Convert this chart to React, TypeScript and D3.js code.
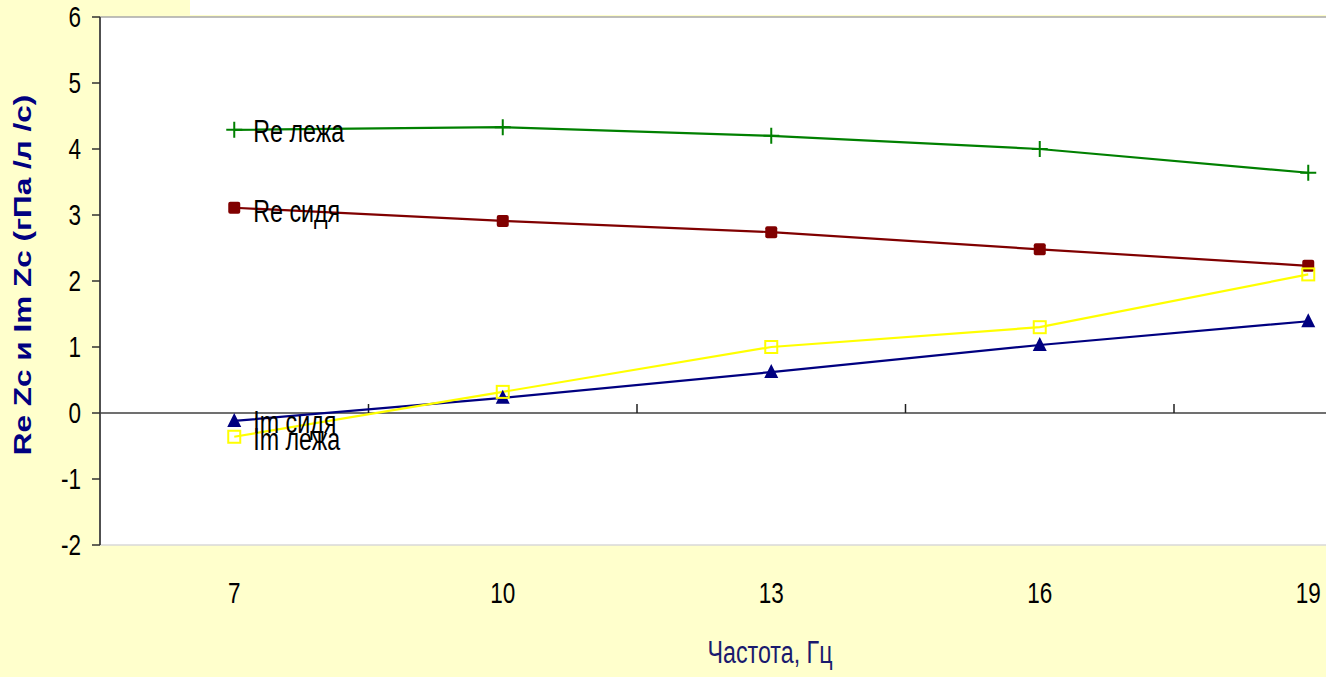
import { useRef, useEffect } from 'react';
import * as d3 from 'd3';

const categories = ['7', '10', '13', '16', '19'];
const yTicks = [6, 5, 4, 3, 2, 1, 0, -1, -2];

const reLying = [4.29, 4.33, 4.2, 4.0, 3.64];
const reSitting = [3.11, 2.91, 2.74, 2.48, 2.23];
const imSitting = [-0.12, 0.23, 0.62, 1.03, 1.39];
const imLying = [-0.36, 0.32, 1.0, 1.3, 2.1];

const seriesNames = ['Re лежа', 'Re сидя', 'Im сидя', 'Im лежа'];

const xTitle = 'Частота, Гц';
const yTitle = 'Re Zc и Im Zc (гПа /л /с)';

const App = () => {
  const ref = useRef(null);

  useEffect(() => {
    d3.select(ref.current).selectAll('*').remove();

    const width = 1326;
    const height = 677;
    const left = 100;
    const top = 17;
    const bottom = 545;
    const bandW = 268.5;
    const font = "'Liberation Sans', Arial, sans-serif";
    const sx = 0.75; // the picture is squeezed sideways

    const svg = d3.select(ref.current)
      .attr('width', width)
      .attr('height', height)
      .attr('font-family', font);

    // background
    svg.append('rect').attr('width', width).attr('height', height).attr('fill', '#ffffcc');
    svg.append('rect').attr('x', 190).attr('y', 0).attr('width', width - 190).attr('height', 15).attr('fill', '#ffffff');

    const x = d3.scaleBand()
      .domain(categories)
      .range([left, left + bandW * categories.length])
      .padding(0);
    const cx = (c) => x(c) + x.bandwidth() / 2;

    const y = d3.scaleLinear().domain([-2, 6]).range([bottom, top]);

    // plot area
    svg.append('rect')
      .attr('x', left).attr('y', top)
      .attr('width', width - left).attr('height', bottom - top)
      .attr('fill', '#ffffff');
    svg.append('line')
      .attr('x1', left).attr('x2', width).attr('y1', top).attr('y2', top)
      .attr('stroke', '#a8a8a8').attr('stroke-width', 1.5);
    svg.append('line')
      .attr('x1', left).attr('x2', width).attr('y1', bottom).attr('y2', bottom)
      .attr('stroke', '#d8d8d8').attr('stroke-width', 1.5);

    // y axis
    svg.append('line')
      .attr('x1', left).attr('x2', left).attr('y1', top).attr('y2', bottom)
      .attr('stroke', '#505050').attr('stroke-width', 2);
    svg.append('g')
      .selectAll('line')
      .data(yTicks)
      .join('line')
      .attr('x1', left - 8).attr('x2', left)
      .attr('y1', d => y(d)).attr('y2', d => y(d))
      .attr('stroke', '#303030').attr('stroke-width', 1.5);
    svg.append('g')
      .selectAll('text')
      .data(yTicks)
      .join('text')
      .attr('transform', d => `translate(${81},${y(d) + 10}) scale(${sx},1)`)
      .attr('text-anchor', 'end')
      .attr('font-size', 30)
      .attr('fill', '#000')
      .text(d => d);

    // x axis on zero
    const zero = y(0);
    svg.append('line')
      .attr('x1', left).attr('x2', width).attr('y1', zero).attr('y2', zero)
      .attr('stroke', '#404040').attr('stroke-width', 1.5);
    svg.append('g')
      .selectAll('line')
      .data(categories.slice(1))
      .join('line')
      .attr('x1', d => x(d)).attr('x2', d => x(d))
      .attr('y1', zero - 9).attr('y2', zero)
      .attr('stroke', '#202020').attr('stroke-width', 1.5);
    svg.append('g')
      .selectAll('text')
      .data(categories)
      .join('text')
      .attr('transform', d => `translate(${cx(d)},${603}) scale(${sx},1)`)
      .attr('text-anchor', 'middle')
      .attr('font-size', 30)
      .attr('fill', '#000')
      .text(d => d);

    // titles
    svg.append('text')
      .attr('transform', `translate(770,663) scale(${sx},1)`)
      .attr('text-anchor', 'middle')
      .attr('font-size', 31)
      .attr('fill', '#1a1a6e')
      .text(xTitle);
    svg.append('text')
      .attr('transform', `translate(31,275) scale(${sx},1) rotate(-90)`)
      .attr('text-anchor', 'middle')
      .attr('font-size', 31.5)
      .attr('font-weight', 'bold')
      .attr('fill', '#000080')
      .text(yTitle);

    const series = [
      { name: seriesNames[0], values: reLying, color: '#008000', marker: 'plus', dy: 12 },
      { name: seriesNames[1], values: reSitting, color: '#800000', marker: 'square', dy: 14 },
      { name: seriesNames[2], values: imSitting, color: '#000080', marker: 'triangle', dy: 12 },
      { name: seriesNames[3], values: imLying, color: '#ffff00', marker: 'open', dy: 13 },
    ];

    const line = d3.line()
      .x((d, i) => cx(categories[i]))
      .y(d => y(d));

    const g = svg.append('g');
    series.forEach(s => {
      g.append('path')
        .attr('d', line(s.values))
        .attr('fill', 'none')
        .attr('stroke', s.color)
        .attr('stroke-width', 2.2);
    });

    series.forEach(s => {
      const pts = g.append('g').selectAll('g')
        .data(s.values)
        .join('g')
        .attr('transform', (d, i) => `translate(${cx(categories[i])},${y(d)})`);
      if (s.marker === 'plus') {
        pts.append('path').attr('d', 'M-8,0H8M0,-8V8').attr('stroke', s.color).attr('stroke-width', 2);
      } else if (s.marker === 'square') {
        pts.append('rect').attr('x', -6).attr('y', -6).attr('width', 12).attr('height', 12)
          .attr('rx', 2).attr('fill', s.color);
      } else if (s.marker === 'triangle') {
        pts.append('path').attr('d', 'M0,-8L7,6L-7,6Z').attr('fill', s.color);
      } else {
        pts.append('rect').attr('x', -6).attr('y', -6).attr('width', 12).attr('height', 12)
          .attr('fill', 'none').attr('stroke', s.color).attr('stroke-width', 2);
      }
    });

    // data labels at the first point
    svg.append('g')
      .selectAll('text')
      .data(series)
      .join('text')
      .attr('transform', d => `translate(${cx(categories[0]) + 19},${y(d.values[0]) + d.dy}) scale(${sx},1)`)
      .attr('font-size', 31)
      .attr('fill', '#000')
      .text(d => d.name);
  }, []);

  return (
    <svg ref={ref} style={{ position: 'absolute', left: 0, top: 0, display: 'block' }} />
  );
};

export default App;
